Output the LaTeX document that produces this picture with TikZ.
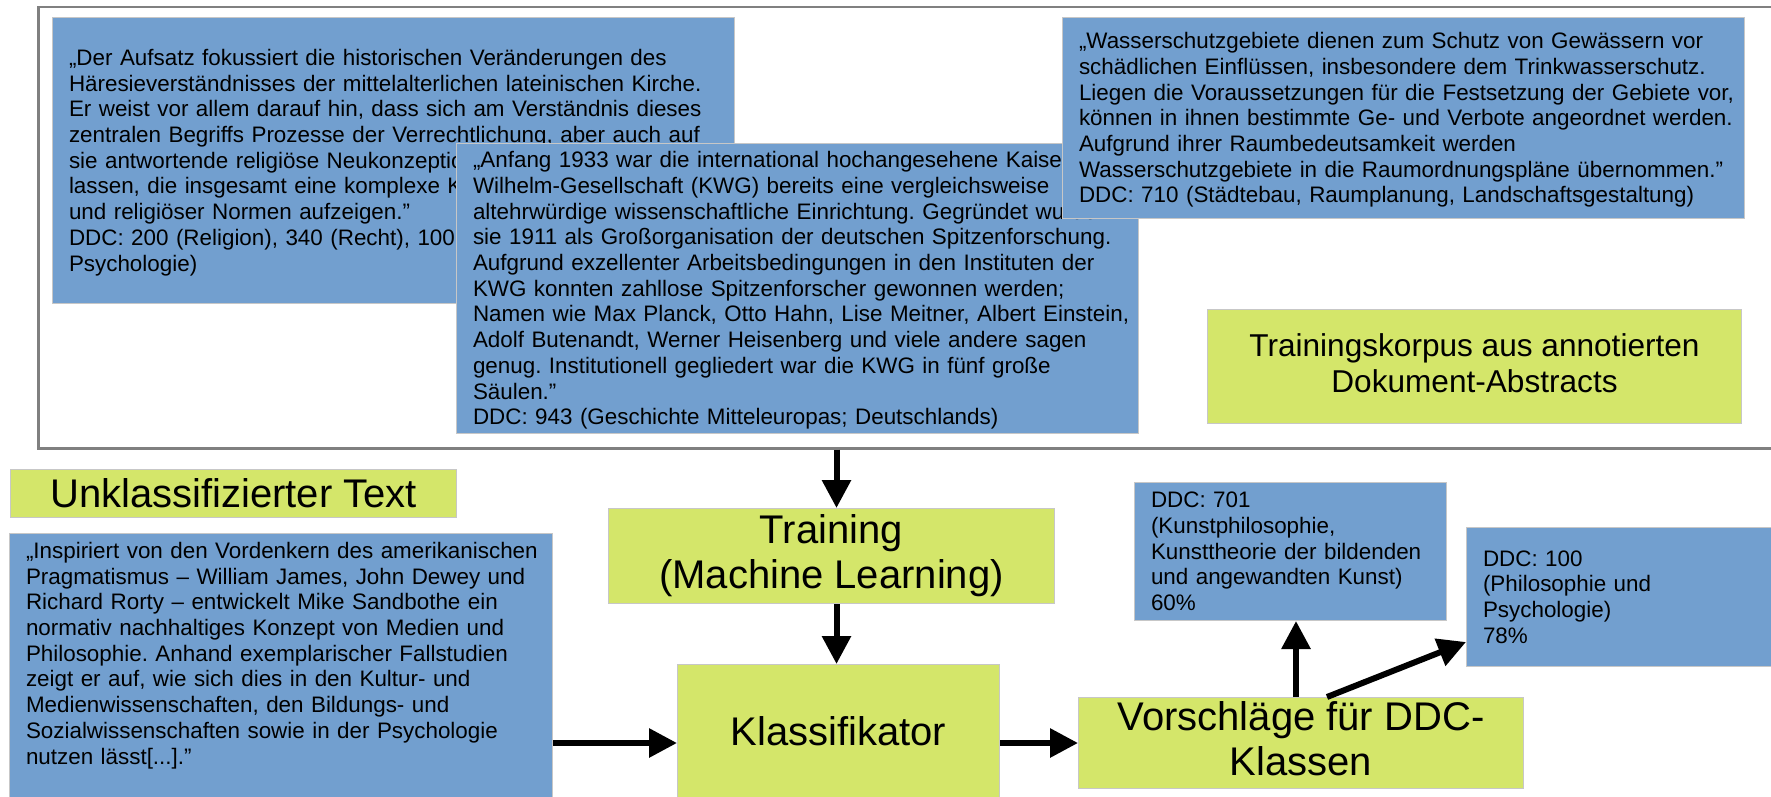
\documentclass[tikz,border=0pt]{standalone}
\usepackage{fontspec}
\setmainfont{Liberation Sans}
\usetikzlibrary{arrows.meta,positioning}
\definecolor{boxblue}{RGB}{114,159,207}
\definecolor{boxgreen}{RGB}{212,230,106}
\definecolor{framegray}{RGB}{128,128,128}
\newcommand\linestrut{\rule[-0.212em]{0pt}{1.117em}}
\frenchspacing

\begin{document}
\begin{tikzpicture}[
  x=1pt, y=-1pt,
  abstract/.style={draw=black!22, line width=1pt, fill=boxblue, anchor=north west, align=left, inner xsep=2pt, inner ysep=0pt,
    font=\fontsize{22.4}{25.7}\selectfont, execute at begin node={\leftskip=14.5pt\linestrut}, execute at end node=\linestrut},
  stage/.style={draw=black!22, line width=1pt, fill=boxgreen, anchor=north west, align=center, inner sep=0pt,
    font=\fontsize{40}{44.7}\selectfont, execute at begin node=\linestrut, execute at end node=\linestrut},
  corpus/.style={draw=framegray, line width=2.5pt, anchor=north west, inner sep=0pt},
  flow/.style={-{Triangle[length=28pt,width=28pt]}, line width=6pt}
]
\useasboundingbox (0,0) rectangle (1771,797);
\clip (0,0) rectangle (1771,797);

% Training corpus frame
\node[corpus, minimum width=1760pt, minimum height=441pt] (korpus) at (37,6) {};

% Annotated abstracts
\node[abstract, text width=678pt, minimum height=286pt] (absa) at (52,17) {%
„Der Aufsatz fokussiert die historischen Veränderungen des\\
Häresieverständnisses der mittelalterlichen lateinischen Kirche.\\
Er weist vor allem darauf hin, dass sich am Verständnis dieses\\
zentralen Begriffs Prozesse der Verrechtlichung, aber auch auf\\
sie antwortende religiöse Neukonzeptionen\\
lassen, die insgesamt eine komplexe Konstellation\\
und religiöser Normen aufzeigen.”\\
DDC: 200 (Religion), 340 (Recht), 100 (Philosophie und\\
Psychologie)};
\node[abstract, text width=678pt, minimum height=290pt] (absb) at (456,143) {%
„Anfang 1933 war die international hochangesehene Kaiser-\\
Wilhelm-Gesellschaft (KWG) bereits eine vergleichsweise\\
altehrwürdige wissenschaftliche Einrichtung. Gegründet wurde\\
sie 1911 als Großorganisation der deutschen Spitzenforschung.\\
Aufgrund exzellenter Arbeitsbedingungen in den Instituten der\\
KWG konnten zahllose Spitzenforscher gewonnen werden;\\
Namen wie Max Planck, Otto Hahn, Lise Meitner, Albert Einstein,\\
Adolf Butenandt, Werner Heisenberg und viele andere sagen\\
genug. Institutionell gegliedert war die KWG in fünf große\\
Säulen.”\\
DDC: 943 (Geschichte Mitteleuropas; Deutschlands)};
\node[abstract, text width=678pt, minimum height=201pt] (absc) at (1062,17) {%
„Wasserschutzgebiete dienen zum Schutz von Gewässern vor\\
schädlichen Einflüssen, insbesondere dem Trinkwasserschutz.\\
Liegen die Voraussetzungen für die Festsetzung der Gebiete vor,\\
können in ihnen bestimmte Ge- und Verbote angeordnet werden.\\
Aufgrund ihrer Raumbedeutsamkeit werden\\
Wasserschutzgebiete in die Raumordnungspläne übernommen.”\\
DDC: 710 (Städtebau, Raumplanung, Landschaftsgestaltung)};
\node[stage, minimum width=534pt, minimum height=114pt, font=\fontsize{31.6}{35.3}\selectfont] (korplbl) at (1207,309) {Trainingskorpus aus annotierten\\Dokument-Abstracts};

% Input text
\node[stage, minimum width=446pt, minimum height=48pt] (unkl) at (10,469) {Unklassifizierter Text};
\node[abstract, text width=539pt, inner ysep=4.7pt] (insp) at (9,533) {%
„Inspiriert von den Vordenkern des amerikanischen\\
Pragmatismus – William James, John Dewey und\\
Richard Rorty – entwickelt Mike Sandbothe ein\\
normativ nachhaltiges Konzept von Medien und\\
Philosophie. Anhand exemplarischer Fallstudien\\
zeigt er auf, wie sich dies in den Kultur- und\\
Medienwissenschaften, den Bildungs- und\\
Sozialwissenschaften sowie in der Psychologie\\
nutzen lässt[...].”\\
\rule{0pt}{40pt}};

% Pipeline
\node[stage, minimum width=446pt, minimum height=95pt] (train) at (608,508) {Training\\(Machine Learning)};
\node[stage, minimum width=322pt, minimum height=134pt] (klass) at (677,664) {Klassifikator};
\node[stage, minimum width=445pt, minimum height=91pt] (vors) at (1078,697) {Vorschläge für DDC-\\Klassen};

% Suggested classes
\node[abstract, text width=308pt, minimum height=138pt] (ddca) at (1134,482) {%
DDC: 701\\
(Kunstphilosophie,\\
Kunsttheorie der bildenden\\
und angewandten Kunst)\\
60\%};
\node[abstract, text width=316pt, minimum height=139pt] (ddcb) at (1466,527) {%
DDC: 100\\
(Philosophie und\\
Psychologie)\\
78\%};

% Connections
\draw[flow] ([xshift=5pt]train.north |- korpus.south) -- ([xshift=5pt]train.north);
\draw[flow] ([xshift=5pt]train.south) -- ([xshift=5pt]train.south |- klass.north);
\draw[flow] (insp.east |- vors.west) -- (klass.west |- vors.west);
\draw[flow] (klass.east |- vors.west) -- (vors.west);
\draw[flow] ([xshift=-5pt]vors.north) -- ([xshift=-5pt]vors.north |- ddca.south);
\draw[flow] ([xshift=26pt]vors.north) -- ([yshift=25pt]ddcb.south west);

\end{tikzpicture}
\end{document}
